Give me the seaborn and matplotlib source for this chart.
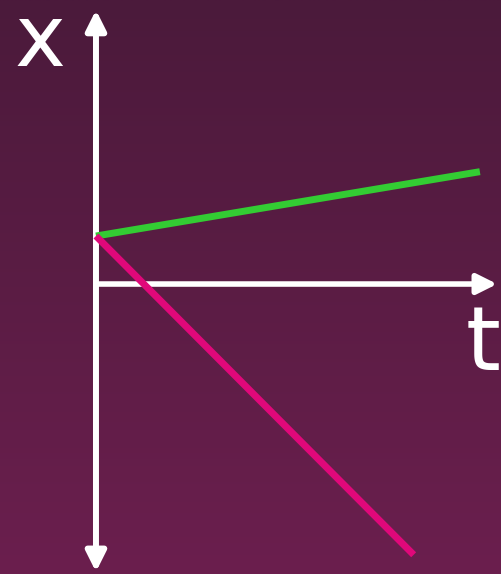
import numpy as np
import pandas as pd
import seaborn as sns
import matplotlib.pyplot as plt
from matplotlib.colors import LinearSegmentedColormap
from matplotlib.patches import FancyArrowPatch

# x-t graph: two objects starting at the same position
t_green = [0.0, 4.0]
x_green = [0.5, 1.17]
t_pink = [0.0, 3.31]
x_pink = [0.5, -2.82]

sns.set_theme(style="white")
plt.rcParams['font.family'] = ['DejaVu Sans']

fig = plt.figure(figsize=(5.01, 5.74), dpi=100)
ax = fig.add_axes([0, 0, 1, 1])

tmin, tmax = -1.0, 4.22
xmin, xmax = -3.02, 2.958

# background gradient, darker on top
bg = LinearSegmentedColormap.from_list("bg", ["#6b1f4e", "#4b1a3b"])
grad = np.linspace(0, 1, 256).reshape(-1, 1)
ax.imshow(grad, cmap=bg, aspect="auto", origin="lower",
          extent=[tmin, tmax, xmin, xmax], zorder=0)

# axes arrows
ax.add_patch(FancyArrowPatch((0, -2.998), (0, 2.854), arrowstyle="<|-|>,head_length=1.2,head_width=0.6",
                             mutation_scale=10, color="white", lw=4.3, shrinkA=0, shrinkB=0, zorder=2))
ax.add_patch(FancyArrowPatch((0, 0), (4.18, 0), arrowstyle="-|>,head_length=1.2,head_width=0.6",
                             mutation_scale=10, color="white", lw=4.0, shrinkA=0, shrinkB=0, zorder=2))

df = pd.DataFrame({"t": t_green + t_pink,
                   "x": x_green + x_pink,
                   "obj": ["green"] * 2 + ["pink"] * 2})
sns.lineplot(data=df, x="t", y="x", hue="obj", palette={"green": "#33cc33", "pink": "#e0087a"},
             linewidth=5, legend=False, ax=ax, zorder=3, solid_capstyle="butt")

ax.text(-0.58, 2.275, "x", color="white", fontsize=62, ha="center", va="baseline")
ax.text(4.03, -0.64, "t", color="white", fontsize=64, ha="center", va="center")

ax.set_xlim(tmin, tmax)
ax.set_ylim(xmin, xmax)
ax.axis("off")

fig.savefig("out.png", dpi=100)
